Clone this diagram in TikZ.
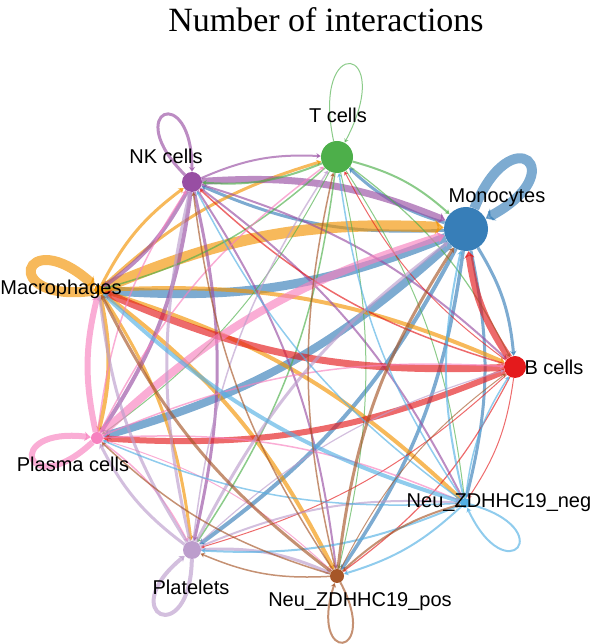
\documentclass[tikz,border=0pt]{standalone}
\usepackage{fontspec}
\setmainfont{Liberation Sans}
\newfontfamily\titlefont{Liberation Serif}
\usetikzlibrary{arrows.meta}
\pgfdeclarelayer{bg}
\pgfsetlayers{bg,main}
\definecolor{cT}{RGB}{77,175,74}
\definecolor{cNK}{RGB}{152,78,163}
\definecolor{cMono}{RGB}{55,126,184}
\definecolor{cMac}{RGB}{242,148,3}
\definecolor{cB}{RGB}{228,26,28}
\definecolor{cPla}{RGB}{247,129,191}
\definecolor{cNneg}{RGB}{84,176,228}
\definecolor{cPlt}{RGB}{188,157,204}
\definecolor{cNpos}{RGB}{166,86,40}
\tikzset{
  cell/.style ={circle, inner sep=0pt, draw=none},
  lbl/.style  ={font=\fontsize{20}{24}\selectfont, inner sep=0pt, anchor=base},
  arr/.style  ={opacity=0.65, -{Stealth[length=3.5pt 0.5,width=3.5pt 1]}},
  ed/.style   ={arr, bend left=13},
}

\begin{document}
\begin{tikzpicture}[x=1pt,y=1pt]
  \useasboundingbox (0,0) rectangle (594,644);
  \node[lbl,font=\titlefont\fontsize{34}{40}\selectfont] (title) at (326,612) {Number of interactions};
  % cells
  \node[cell,fill=cT,minimum size=32pt] (T) at (337,487) {};
  \node[cell,fill=cNK,minimum size=20pt] (NK) at (192,462) {};
  \node[cell,fill=cMono,minimum size=44pt] (Mono) at (466,415) {};
  \node[cell,fill=cMac,minimum size=10pt] (Mac) at (99,354) {};
  \node[cell,fill=cB,minimum size=22pt] (B) at (515,277) {};
  \node[cell,fill=cPla,minimum size=12pt] (Pla) at (97,206) {};
  \node[cell,fill=cNneg,minimum size=10pt] (Nneg) at (465,141) {};
  \node[cell,fill=cPlt,minimum size=18pt] (Plt) at (192,94) {};
  \node[cell,fill=cNpos,minimum size=14pt] (Npos) at (337,68) {};
  % labels
  \node[lbl] (lT) at (338,521) {T cells};
  \node[lbl] (lNK) at (166,480) {NK cells};
  \node[lbl] (lMono) at (497,441) {Monocytes};
  \node[lbl] (lMac) at (61,349) {Macrophages};
  \node[lbl] (lB) at (554,269) {B cells};
  \node[lbl] (lPla) at (73,172) {Plasma cells};
  \node[lbl] (lNneg) at (499,136) {Neu\_ZDHHC19\_neg};
  \node[lbl] (lPlt) at (191,49) {Platelets};
  \node[lbl] (lNpos) at (360,37) {Neu\_ZDHHC19\_pos};
  \begin{pgfonlayer}{bg}
    % edges, coloured by source
    \foreach \s/\t/\w in {
      Mono/Mac/9, Mono/Pla/8, Mono/NK/3, Mono/T/3, Mono/B/3, Mono/Plt/4, Mono/Npos/3.5, Mono/Nneg/3,
      Mac/Mono/11, Mac/Pla/4, Mac/NK/3, Mac/T/3, Mac/B/4, Mac/Nneg/4, Mac/Plt/3, Mac/Npos/4,
      NK/Mono/7, NK/T/2, NK/Mac/4, NK/Pla/4, NK/B/2, NK/Nneg/2, NK/Plt/3, NK/Npos/2,
      T/NK/2, T/Mono/2, T/Mac/1.5, T/Pla/1, T/B/1.2, T/Plt/1.5, T/Npos/1, T/Nneg/1,
      B/Mono/7, B/Mac/7, B/Pla/6, B/NK/1.5, B/Nneg/1, B/Npos/1.2, B/Plt/1, B/T/1,
      Pla/Mono/8, Pla/Mac/6, Pla/NK/1.5, Pla/T/1.5, Pla/B/1.5, Pla/Nneg/1.5, Pla/Plt/1.5, Pla/Npos/1,
      Plt/Mac/3, Plt/Pla/3, Plt/Mono/3, Plt/NK/3, Plt/T/1.5, Plt/B/1.2, Plt/Nneg/2, Plt/Npos/3,
      Nneg/Mac/4, Nneg/Mono/2, Nneg/B/1.5, Nneg/T/1.5, Nneg/NK/1.5, Nneg/Pla/1.5, Nneg/Plt/2, Nneg/Npos/2,
      Npos/Mono/3, Npos/Mac/3, Npos/NK/1.5, Npos/T/1.5, Npos/Pla/1.5, Npos/Plt/1.5, Npos/B/1, Npos/Nneg/2}
      \draw[ed,draw=c\s,line width=\w pt] (\s) to (\t);
    % self loops
    \foreach \s/\o/\i/\d/\w in {
      T/102/62/112/1, NK/135/90/91/3, Mono/68/28/100/10, Mac/188/138/97/10,
      Pla/223/173/91/6, Plt/269/219/92/4, Nneg/-15/-65/94/2, Npos/-62/-108/87/2}
      \draw[arr,draw=c\s,line width=\w pt] (\s) to[out=\o,in=\i,min distance=\d pt] (\s);
  \end{pgfonlayer}
\end{tikzpicture}
\end{document}
